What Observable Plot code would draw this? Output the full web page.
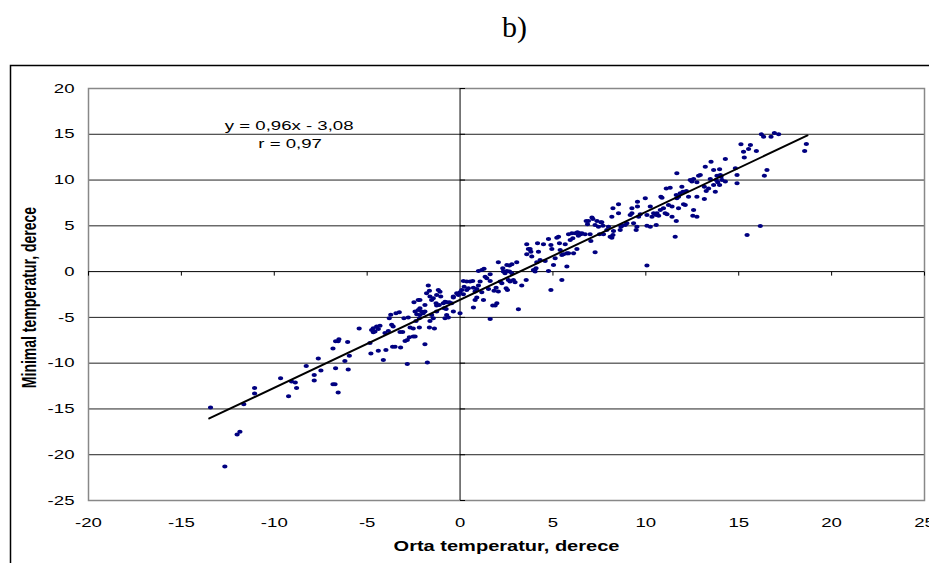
<!DOCTYPE html>
<html><head><meta charset="utf-8">
<script src="https://cdn.jsdelivr.net/npm/d3@7"></script>
<script src="https://cdn.jsdelivr.net/npm/@observablehq/plot@0.6"></script>
<style>
body{margin:0;background:#fff}
#chart{width:929px;height:563px;overflow:hidden}
</style>
</head><body><div id="chart"></div>
<script>
// Orta temperatur (x) and Minimal temperatur (y), derece
const avgTemp = [
-13.43,-12.66,-12.0,-11.85,-11.64,-11.06,-11.06,-9.66,-9.23,-9.07,-8.87,-8.8,-8.28,-7.85,-7.85,-7.63,-7.49,-6.84,-6.7,-6.56,
-6.7,-6.84,-6.73,-6.56,-6.52,-6.05,-6.2,-6.02,-5.96,-5.43,
-4.85,-4.8,-4.76,-4.67,-4.58,-4.49,-4.4,-4.31,-4.67,-4.4,-4.13,-3.99,-4.04,-3.86,-3.81,-3.73,-3.68,-3.6,-3.63,-3.5,
-3.45,-3.27,-3.23,-3.09,-3.2,-3.02,-2.79,-2.96,-2.84,-2.73,-2.52,-2.42,-2.84,-2.69,-2.52,-2.48,-2.25,
-2.42,-2.33,-2.25,-2.16,-2.07,-1.98,-2.19,-2.37,
-2.16,-1.89,-2.19,-1.89,-1.76,-1.65,-1.38,-1.71,-1.65,-1.62,-1.44,-1.26,-1.17,-1.08,-1.26,-1.12,-1.53,-1.44,-1.62,
-0.9,-0.81,-0.72,-0.58,-0.86,-0.72,-0.81,-0.63,-0.75,-0.36,-0.18,-0.09,0,0.09,0.18,0.22,0.18,0.36,0.45,0,
-2.16,-1.8,-1.53,-1.29,-1.04,-0.45,-0.36,-1.89,-1.26,-0.36,
0.36,0.54,0.68,0.72,0.81,0.9,0.99,0.72,0.81,0.9,0.99,1.17,1.29,1.08,1.17,1.26,1.35,1.44,1.53,1.62,
1.62,1.62,1.76,1.89,1.83,1.98,1.94,2.06,2.06,2.16,2.25,2.3,2.33,2.42,2.52,2.52,2.66,2.79,2.48,2.55,
2.6,2.69,2.87,2.96,2.66,2.79,3.05,3.14,3.32,3.56,3.59,3.68,3.59,3.86,3.77,3.81,3.95,4.09,4.04,4.13,
4.22,4.17,4.31,4.49,4.76,4.58,4.76,4.89,4.89,4.94,5.03,5.12,5.21,5.3,5.35,5.48,5.48,5.66,5.75,5.84,
5.39,5.57,
5.75,5.84,5.93,6.02,6.07,6.11,6.2,6.29,6.32,6.37,6.43,6.5,6.56,6.73,6.79,6.86,6.91,7.0,7.04,7.1,
7.15,7.27,7.37,7.45,7.51,7.58,7.63,7.69,7.72,7.27,7.9,7.99,8.08,8.17,8.23,8.26,8.17,8.23,8.53,8.53,
8.62,8.66,8.71,8.89,8.98,9.16,9.25,9.25,9.34,9.48,9.52,9.55,9.55,9.61,9.7,9.97,10.06,10.06,10.24,10.24,
10.33,10.42,10.56,10.56,10.6,10.69,10.78,10.81,10.87,10.95,11.04,11.14,11.22,11.1,11.31,11.41,11.41,11.58,11.64,11.64,
11.67,11.76,11.76,11.85,11.94,12.0,12.03,12.12,12.18,12.3,12.39,12.48,12.57,12.75,12.84,12.57,12.75,12.53,12.75,11.67,
10.06,
12.93,13.15,13.2,13.15,13.25,13.38,13.51,13.47,13.65,13.65,13.74,13.79,13.83,13.87,13.97,13.97,14.01,14.05,14.1,14.28,
14.28,14.82,14.91,14.91,15.12,15.26,15.3,15.45,15.53,15.63,15.95,16.16,16.22,16.34,16.38,16.52,16.74,16.92,17.15,18.55,
18.64
];
const minTemp = [
-14.85,-21.3,-17.8,-17.5,-14.5,-12.7,-13.3,-11.65,-13.6,-12.0,-12.1,-12.7,-10.3,-11.3,-11.9,-9.5,-10.8,-8.4,-7.6,-7.6,
-10.55,-12.3,-12.3,-13.2,-7.4,-7.7,-9.75,-10.7,-9.2,-6.2,
-7.8,-8.95,-6.37,-6.19,-6.55,-6.0,-6.26,-5.9,-6.62,-8.65,-9.65,-8.55,-6.7,-6.5,-5.1,-4.7,-5.8,-6.0,-8.2,-8.2,
-4.55,-4.45,-6.6,-6.6,-8.3,-5.1,-5.0,-7.57,-7.46,-7.17,-7.1,-7.1,-10.1,-6.1,-6.2,-3.35,-3.1,
-4.37,-4.66,-4.19,-4.73,-4.37,-4.55,-5.1,-5.39,
-4.0,-3.65,-6.1,-7.93,-9.93,-6.1,-6.2,-1.53,-2.1,-2.73,-2.9,-2.55,-2.0,-2.2,-3.7,-3.64,-4.73,-5.1,-5.4,
-3.46,-3.28,-3.35,-3.35,-4.0,-4.73,-5.1,-5.0,-4.08,-2.73,-2.37,-2.55,-2.26,-2.0,-2.48,-1.64,-1.02,-1.09,-1.82,-4.55,
-3.09,-2.37,-3.09,-3.46,-2.73,-3.46,-2.84,-4.37,-4.37,-4.37,
-2.0,-1.09,-1.02,-1.75,-2.18,-1.89,-1.53,-3.93,-3.09,-2.84,0.07,0.18,0.3,-1.09,-2.26,-3.09,-0.55,-0.73,-1.89,-0.29,
-1.02,-5.17,-3.71,-3.71,-2.1,-3.46,-1.75,-2.18,1.02,-1.09,-1.28,0.36,0,-0.18,0.07,0.73,0.66,0.8,-1.82,-2.0,
-0.91,-1.09,-0.91,-1.17,0,-0.18,1.02,-4.11,-1.53,-0.91,2.98,2.48,1.89,1.64,2.48,2.18,0.18,0.36,0,1.02,
2.18,3.09,1.28,2.98,3.57,1.17,0.07,-2.0,2.91,2.48,0.73,1.46,3.71,3.82,3.09,-0.91,1.82,2.98,0.55,4.07,
2.37,1.89,
2.0,2.0,3.46,4.18,3.64,2.0,4.18,2.48,4.29,3.93,4.18,4.07,4.18,4.07,5.53,5.17,5.53,4.07,3.35,5.9,
5.75,5.1,5.53,4.91,4.07,5.39,5.39,5.02,4.07,2.11,4.55,4.91,3.82,3.71,4.0,4.44,6.0,6.91,7.35,6.37,
4.55,4.91,5.02,5.1,5.28,6.19,6.91,6.37,5.28,4.55,4.91,7.1,7.64,6.0,6.26,8.0,5.02,6.19,7.1,4.91,
6.0,6.37,6.19,5.1,6.37,6.11,6.73,8.19,8.08,6.91,6.37,6.26,7.28,9.09,9.17,7.1,6.0,3.82,5.53,8.37,
8.0,8.19,6.91,8.55,9.28,8.73,7.35,7.28,8.81,8.19,10.0,9.83,10.12,9.75,10.48,6.73,6.0,6.11,8.19,10.73,
0.66,
10.55,9.28,11.46,7.93,8.81,9.09,12.0,10.12,11.1,9.46,8.73,10.0,10.48,9.75,11.17,9.46,10.55,10.37,10.0,12.3,
9.83,11.28,10.55,9.64,13.9,13.1,12.45,4.0,13.4,13.83,13.17,4.99,14.99,14.74,10.48,11.1,14.74,15.14,14.99,13.17,
13.94
];
const xTicks = [-20,-15,-10,-5,0,5,10,15,20,25];
const yTicks = [-25,-20,-15,-10,-5,0,5,10,15,20];
const gridY = [-20,-15,-10,-5,5,10,15];
const fitSlope = 0.96;
const fitIntercept = -3.08;
const fitRange = [-13.5, 18.7];
const equationLines = ["y = 0,96x - 3,08", "r = 0,97"];
const xTitle = "Orta temperatur, derece";
const yTitle = "Minimal temperatur, derece";
const panelTitle = "b)";

const points = avgTemp.map((x, i) => ({x, y: minTemp[i]}));
const fit = fitRange.map(x => ({x, y: fitSlope * x + fitIntercept}));

const tickDown = {draw(ctx){ ctx.moveTo(0,0); ctx.lineTo(0,4); }};
const tickRight = {draw(ctx){ ctx.moveTo(0,0); ctx.lineTo(5,0); }};
// slightly wide oval marker, like the reference's markers
const oval = {draw(ctx){
  const rx = 2.6, ry = 2.0, k = 0.5523;
  ctx.moveTo(rx, 0);
  ctx.bezierCurveTo(rx, k*ry, k*rx, ry, 0, ry);
  ctx.bezierCurveTo(-k*rx, ry, -rx, k*ry, -rx, 0);
  ctx.bezierCurveTo(-rx, -k*ry, -k*rx, -ry, 0, -ry);
  ctx.bezierCurveTo(k*rx, -ry, rx, -k*ry, rx, 0);
  ctx.closePath();
}};
const fmt = d => String(d);
const stretch = 1.43;

const chart = Plot.plot({
  width: 929, height: 563,
  marginLeft: 88, marginRight: 5, marginTop: 88, marginBottom: 63,
  style: {fontFamily: "'Liberation Sans', Arial, sans-serif", fontSize: "13px", color: "#000", background: "#fff"},
  x: {domain: [-20, 25], ticks: xTicks, tickSize: 0, tickPadding: 17, tickFormat: fmt, label: null},
  y: {domain: [-25, 20], ticks: yTicks, tickSize: 0, tickPadding: 14, tickFormat: fmt, label: null},
  marks: [
    Plot.frame({stroke: "#000", strokeWidth: 1.5, insetLeft: -78, insetTop: -23, insetRight: -20, insetBottom: -80}),
    Plot.ruleY(gridY, {stroke: "#222", strokeWidth: 1}),
    Plot.frame({stroke: "#888", strokeWidth: 1.5}),
    Plot.ruleX([0], {stroke: "#000", strokeWidth: 1}),
    Plot.ruleY([0], {stroke: "#000", strokeWidth: 1}),
    Plot.dot(xTicks.filter(t => t !== 0), {x: d => d, y: () => 0, symbol: tickDown, stroke: "#000", strokeWidth: 1}),
    Plot.dot(yTicks.filter(t => t !== 0), {x: () => 0, y: d => d, symbol: tickRight, stroke: "#000", strokeWidth: 1}),
    Plot.dot(points, {x: "x", y: "y", symbol: oval, fill: "#000080", stroke: "none"}),
    Plot.line(fit, {x: "x", y: "y", stroke: "#000", strokeWidth: 2}),
    Plot.text([equationLines[0]], {x: -9.2, y: 15.9, fontSize: 13, fill: "#000", className: "wide"}),
    Plot.text([equationLines[1]], {x: -9.15, y: 14.0, fontSize: 13, fill: "#000", className: "wide"}),
    Plot.text([xTitle], {frameAnchor: "bottom", lineAnchor: "middle", dy: 46, fontWeight: "bold", fontSize: 14, fill: "#000", className: "wide"}),
    Plot.text([yTitle], {frameAnchor: "left", textAnchor: "middle", lineAnchor: "middle", dx: -59, dy: 3, rotate: -90, fontWeight: "bold", fontSize: 14 * stretch, fill: "#000", className: "narrow"}),
    Plot.text([panelTitle], {frameAnchor: "top", lineAnchor: "middle", dx: 8, dy: -61, fontFamily: "'Liberation Serif', 'Times New Roman', serif", fontSize: 30, fill: "#000"})
  ]
});
document.getElementById("chart").appendChild(chart);

// the reference's lettering is widened horizontally on screen
const fitLength = factor => function() {
  const len = this.getComputedTextLength();
  if (len > 0) {
    this.setAttribute("textLength", (len * factor).toFixed(1));
    this.setAttribute("lengthAdjust", "spacingAndGlyphs");
  }
};
d3.select(chart).selectAll("g[aria-label='x-axis tick label'] text, g[aria-label='y-axis tick label'] text, .wide text").each(fitLength(stretch));
d3.select(chart).selectAll(".narrow text").each(fitLength(1 / stretch));
</script>
</body></html>
